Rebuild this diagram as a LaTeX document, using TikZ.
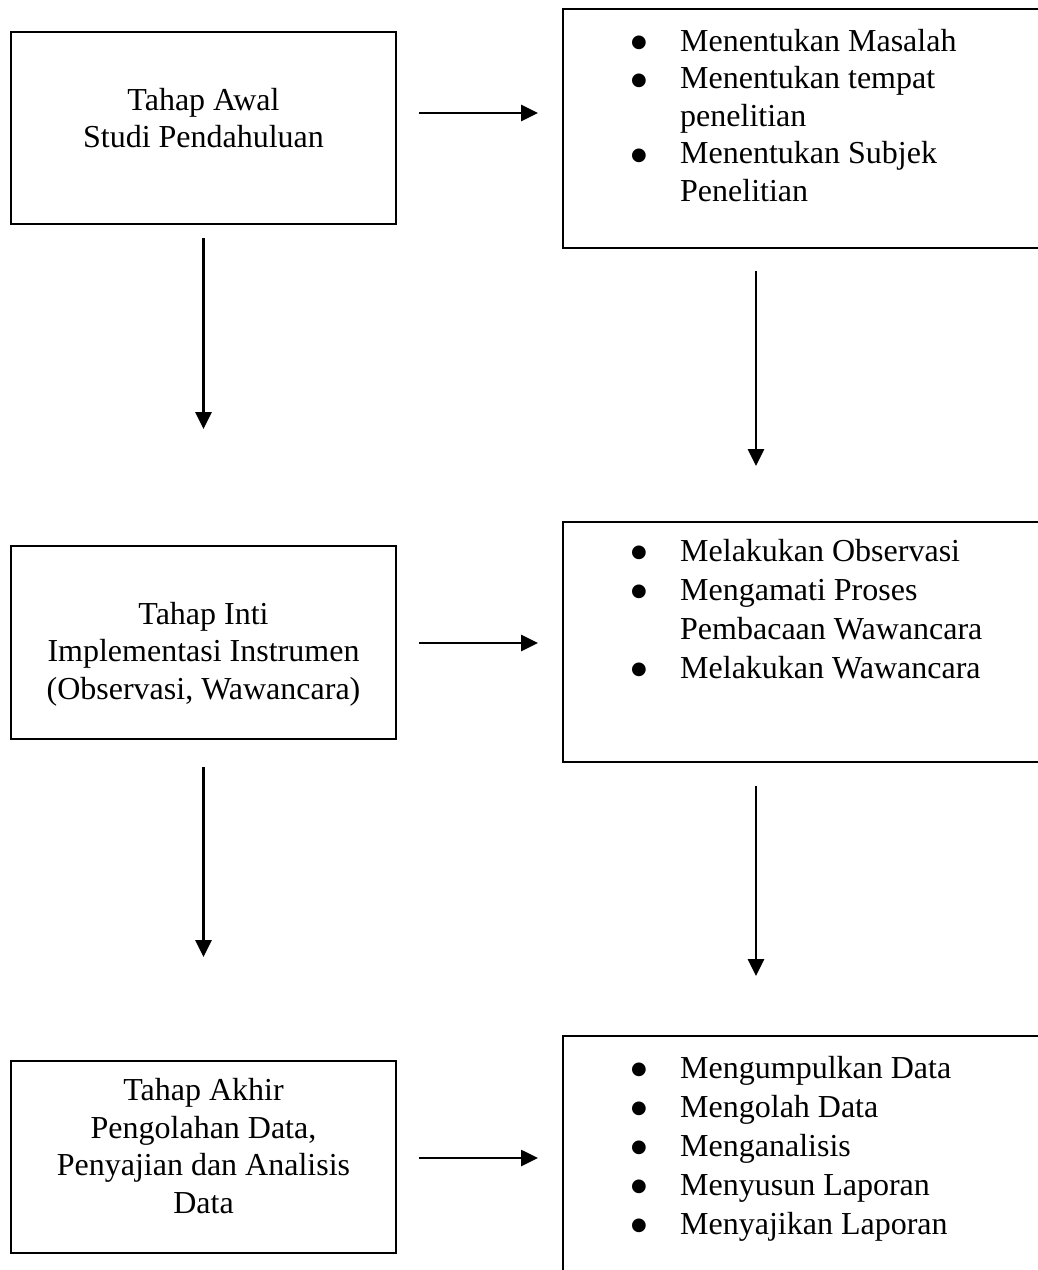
\documentclass[tikz,border=0pt]{standalone}
\usepackage{fontspec}
\setmainfont{Liberation Serif}
\newfontfamily\symfont{DejaVu Sans}
\usetikzlibrary{arrows.meta}
\begin{document}
\begin{tikzpicture}[x=1pt,y=-1pt,
  box/.style={draw, line width=2pt, rectangle, inner sep=0pt},
  arr/.style={line width=2.7pt, -{Triangle[length=17pt,width=16pt]}},
  txt/.style={inner sep=0pt, font=\fontsize{32}{37.5}\selectfont, align=center, anchor=base},
  lst/.style={inner sep=0pt, align=left, anchor=base west}]
\useasboundingbox (0,0) rectangle (1038,1270);
\clip (0,0) rectangle (1038,1270);
% left boxes
\node[box, minimum width=385pt, minimum height=192pt] (L1) at (203.5,128) {};
\node[box, minimum width=385pt, minimum height=193pt] (L2) at (203.5,642.5) {};
\node[box, minimum width=385pt, minimum height=192pt] (L3) at (203.5,1157) {};
% right boxes (run past the right / bottom edge)
\node[box, minimum width=537pt, minimum height=239pt] (R1) at (831.5,128.5) {};
\node[box, minimum width=537pt, minimum height=240pt] (R2) at (831.5,642) {};
\node[box, minimum width=537pt, minimum height=264pt] (R3) at (831.5,1168) {};
% texts (anchor = baseline of last line)
\node[txt] (T1) at (203.5,147.5) {Tahap Awal\\Studi Pendahuluan};
\node[txt] (T2) at (203.5,699) {Tahap Inti\\Implementasi Instrumen\\(Observasi, Wawancara)};
\node[txt] (T3) at (203.5,1213) {Tahap Akhir\\Pengolahan Data,\\Penyajian dan Analisis\\Data};
\newcommand{\bul}{\makebox[49pt][l]{\raisebox{3.5pt}{\symfont\fontsize{18}{18}\selectfont ●}}}
\newcommand{\ind}{\hspace*{49pt}}
\node[lst, font=\fontsize{32}{37.5}\selectfont] (B1) at (631,201) {\bul Menentukan Masalah\\\bul Menentukan tempat\\\ind penelitian\\\bul Menentukan Subjek\\\ind Penelitian};
\node[lst, font=\fontsize{32}{39}\selectfont] (B2) at (631,678) {\bul Melakukan Observasi\\\bul Mengamati Proses\\\ind Pembacaan Wawancara\\\bul Melakukan Wawancara};
\node[lst, font=\fontsize{32}{39}\selectfont] (B3) at (631,1234) {\bul Mengumpulkan Data\\\bul Mengolah Data\\\bul Menganalisis\\\bul Menyusun Laporan\\\bul Menyajikan Laporan};
% horizontal arrows
\draw[arr, shorten <=22pt, shorten >=24pt] ([yshift=15pt]L1.east) -- ([yshift=15pt]L1.east -| R1.west);
\draw[arr, shorten <=22pt, shorten >=24pt] ([yshift=-0.5pt]L2.east) -- ([yshift=-0.5pt]L2.east -| R2.west);
\draw[arr, shorten <=22pt, shorten >=24pt] ([yshift=-1pt]L3.east) -- ([yshift=-1pt]L3.east -| R3.west);
% vertical arrows
\coordinate (rc) at (756,0);
\draw[arr, shorten <=13pt, shorten >=116pt] (L1.south) -- (L2.north);
\draw[arr, shorten <=27pt, shorten >=103pt] (L2.south) -- (L3.north);
\draw[arr, shorten <=22pt, shorten >=55pt] (R1.south -| rc) -- (R2.north -| rc);
\draw[arr, shorten <=23pt, shorten >=59pt] (R2.south -| rc) -- (R3.north -| rc);
\end{tikzpicture}
\end{document}
